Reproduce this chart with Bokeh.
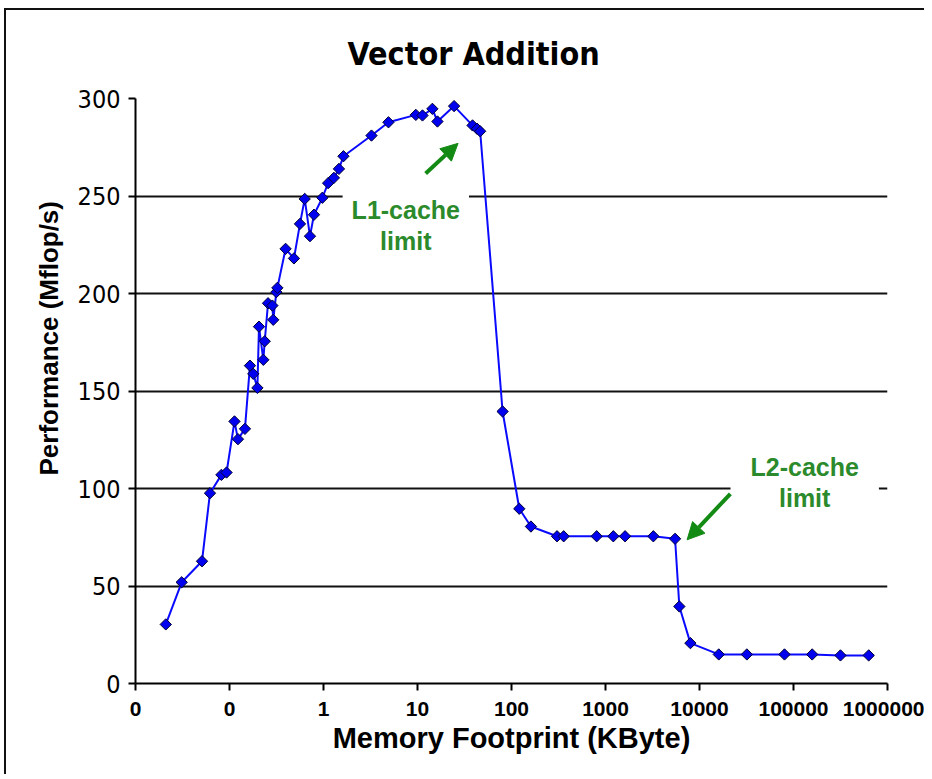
import math
from bokeh.plotting import figure
from bokeh.models import Label, Arrow, NormalHead, FixedTicker, Title
from bokeh.embed import file_html
from bokeh.resources import INLINE

# ---- data ----
footprint_kb = [0.021, 0.031, 0.051, 0.062, 0.082, 0.093, 0.113, 0.123, 0.146,
                0.165, 0.179, 0.198, 0.206, 0.229, 0.237, 0.257, 0.286, 0.292,
                0.315, 0.323, 0.395, 0.485, 0.562, 0.631, 0.718, 0.792, 0.973,
                1.12, 1.29, 1.46, 1.63, 3.24, 4.91, 9.6, 11.3, 14.4, 16.3, 24.5,
                38.5, 43.0, 46.4, 80.4, 121, 161, 305, 359, 806, 1211, 1615,
                3228, 5495, 6107, 8000, 16030, 31900, 80200, 158000, 316000, 631000]
mflops = [30.3, 51.9, 62.7, 97.6, 107.0, 108.2, 134.4, 125.3, 130.6,
          163.0, 158.8, 151.6, 183.0, 166.0, 175.5, 195.0, 193.8, 186.5,
          200.7, 202.9, 222.9, 218.0, 235.7, 248.5, 229.4, 240.4, 249.1,
          256.6, 259.3, 263.9, 270.4, 281.0, 287.8, 291.6, 291.3, 294.7, 288.2, 296.1,
          286.2, 284.5, 283.2, 139.5, 89.6, 80.5, 75.5, 75.5, 75.5, 75.5, 75.5,
          75.5, 74.2, 39.5, 20.7, 14.9, 14.9, 14.9, 14.9, 14.4, 14.4]

x_ticks = [0.01, 0.1, 1, 10, 100, 1000, 10000, 100000, 1000000]
x_tick_labels = ["0", "0", "1", "10", "100", "1000", "10000", "100000", "1000000"]
y_ticks = [0, 50, 100, 150, 200, 250, 300]

GREEN_TEXT = "#2b8a2b"
GREEN_ARROW = "#138a13"

p = figure(width=920, height=766, x_axis_type="log",
           x_range=(0.01, 1e6), y_range=(0, 300),
           output_backend="svg", toolbar_location=None,
           min_border_left=129, min_border_right=39,
           min_border_top=88, min_border_bottom=93)

p.margin = (8, 0, 0, 4)
p.styles = {"border-left": "2px solid #111", "border-top": "2px solid #111"}
p.outline_line_color = None
p.background_fill_color = "white"
p.border_fill_color = "white"

# title
p.title.text = "Vector Addition"
p.title.align = "left"
p.title.offset = 212
p.title.standoff = 47
p.title.vertical_align = "top"
p.title.text_font = "DejaVu Sans Condensed"
p.title.text_font_size = "32px"
p.title.text_font_style = "bold"
p.title.text_color = "black"

# axes
xa = p.xaxis[0]
xa.ticker = FixedTicker(ticks=x_ticks)
xa.major_label_overrides = dict(zip(x_ticks, x_tick_labels))
xa.minor_tick_line_color = None
xa.major_tick_out = 7
xa.major_tick_in = 0
xa.axis_line_width = 2
xa.axis_line_color = "black"
xa.major_tick_line_width = 2
xa.major_tick_line_color = "black"
xa.major_label_text_font = "Liberation Sans"
xa.major_label_text_font_style = "bold"
xa.major_label_text_font_size = "21px"
xa.major_label_text_color = "black"
xa.major_label_standoff = 11
xa.axis_label = "Memory Footprint (KByte)"
xa.axis_label_text_font = "Liberation Sans"
xa.axis_label_text_font_style = "bold"
xa.axis_label_text_font_size = "29px"
xa.axis_label_text_color = "black"
xa.axis_label_standoff = 3

ya = p.yaxis[0]
ya.ticker = FixedTicker(ticks=y_ticks)
ya.minor_tick_line_color = None
ya.major_tick_out = 7
ya.major_tick_in = 0
ya.axis_line_width = 2
ya.axis_line_color = "black"
ya.major_tick_line_width = 2
ya.major_tick_line_color = "black"
ya.major_label_text_font = "DejaVu Sans Condensed"
ya.major_label_text_font_size = "25px"
ya.major_label_text_color = "black"
ya.major_label_standoff = 8

p.xgrid.visible = False
p.ygrid.grid_line_color = "#111111"
p.ygrid.grid_line_width = 2

# y axis title, placed as a side title so it can sit off-centre like the reference
p.add_layout(Title(text="Performance (Mflop/s)", align="left", offset=208,
                   standoff=21, text_font="Liberation Sans", text_font_style="bold",
                   text_font_size="26px", text_color="black"), "left")

# data
p.line(footprint_kb, mflops, line_color="#0a0aff", line_width=2)
p.scatter(footprint_kb, mflops, marker="square", angle=math.pi / 4, size=8,
          fill_color="#0000ee", line_color="#000033", line_width=1)

# annotations
p.add_layout(Label(x=7.51, y=235, text="L1-cache\nlimit",
                   text_align="center", text_baseline="middle",
                   text_font="Liberation Sans", text_font_style="bold",
                   text_font_size="25px", text_color=GREEN_TEXT,
                   text_line_height=1.1,
                   background_fill_color="white", padding=(9, 8)))
p.add_layout(Label(x=131600, y=103, text="L2-cache\nlimit",
                   text_align="center", text_baseline="middle",
                   text_font="Liberation Sans", text_font_style="bold",
                   text_font_size="25px", text_color=GREEN_TEXT,
                   text_line_height=1.1,
                   background_fill_color="white", padding=(20, 8)))

p.add_layout(Arrow(end=NormalHead(size=17, fill_color=GREEN_ARROW, line_color=GREEN_ARROW),
                   x_start=12.2, y_start=261.5, x_end=27, y_end=277,
                   line_color=GREEN_ARROW, line_width=4))
p.add_layout(Arrow(end=NormalHead(size=17, fill_color=GREEN_ARROW, line_color=GREEN_ARROW),
                   x_start=21300, y_start=97.3, x_end=7380, y_end=73.7,
                   line_color=GREEN_ARROW, line_width=4))

open("out.html", "w").write(file_html(p, INLINE))
